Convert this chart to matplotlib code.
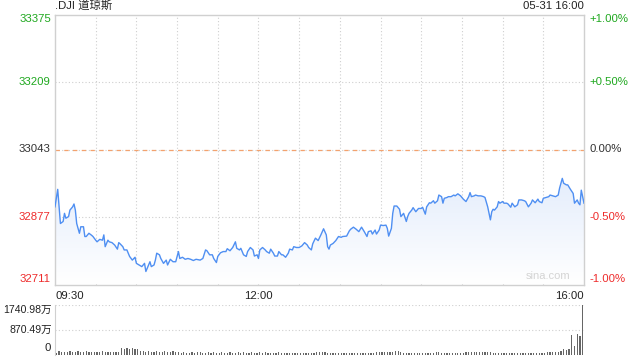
import numpy as np
import matplotlib
matplotlib.use('Agg')
import matplotlib.pyplot as plt
from matplotlib.colors import LinearSegmentedColormap
from matplotlib.patches import Polygon

plt.rcParams['font.family'] = ['Liberation Sans', 'Noto Sans CJK SC', 'DejaVu Sans']

prev_close = 33043
y_low, y_high = 32711, 33375
left_ticks = [33375, 33209, 33043, 32877, 32711]
right_ticks = ['+1.00%', '+0.50%', '0.00%', '-0.50%', '-1.00%']
tick_colors = ['#1fa81f', '#1fa81f', '#333333', '#ee2b2b', '#ee2b2b']

# minutes since 09:30 and index level
minutes = [0, 2, 4, 6, 7, 8, 10, 11, 13, 14, 15, 16, 18, 19, 21, 22, 23, 25, 27, 28,
           30, 31, 33, 35, 36, 37, 39, 40, 42, 44, 46, 47, 48, 50, 51, 53, 55, 57, 59,
           60, 62, 64, 66, 67, 69, 70, 71, 73, 74, 75, 77, 78, 80, 82, 83, 85, 87, 89,
           91, 92, 94, 96, 98,
           100, 102, 104, 107, 109, 111, 112, 114, 116, 117, 119, 120, 122, 124, 126,
           127, 129, 131, 133, 134, 136, 137, 139, 141, 142, 144, 146, 147, 149, 150,
           151, 153, 155, 156, 158, 159, 161, 162, 164, 165, 167, 168, 170, 172, 173,
           175, 176, 178, 180, 182, 184, 186, 187, 189, 190, 192, 194, 196, 198, 200, 201,
           202, 203, 205, 207, 209, 211, 212, 215, 217, 218, 220, 222, 224, 226, 228,
           230, 231, 233, 234, 236, 237, 239, 240, 242, 244, 245, 246, 248, 249, 250,
           252, 254, 255, 257, 259, 260, 261, 263, 264, 266, 268, 270, 271, 273, 274,
           276, 277, 279, 280, 282, 283, 285, 286, 287, 289, 290, 292, 294, 295, 297,
           299, 301, 303, 305, 306, 307, 309, 310, 312, 314, 316, 317, 319, 321, 322,
           323, 324, 326, 327, 328, 330, 331, 333, 334, 336, 337, 339, 341, 342, 344,
           346, 347, 349, 351, 352, 354, 356, 357, 359, 360, 362, 364, 365, 367, 369,
           371, 372, 374, 375, 377, 378, 380, 382, 383, 385, 386, 387, 388, 389, 390]
prices = [32902, 32945, 32861, 32866, 32886, 32874, 32878, 32894, 32902, 32909, 32894, 32861, 32837, 32853, 32853, 32829, 32829, 32837, 32832, 32829,
          32820, 32816, 32822, 32820, 32833, 32804, 32820, 32816, 32814, 32808, 32798, 32814, 32811, 32804, 32796, 32796, 32780, 32771, 32778,
          32763, 32759, 32755, 32763, 32743, 32759, 32767, 32755, 32759, 32771, 32788, 32784, 32775, 32763, 32771, 32759, 32773, 32767, 32767,
          32792, 32775, 32778, 32773, 32775,
          32773, 32770, 32773, 32771, 32775, 32796, 32794, 32784, 32784, 32775, 32765, 32780, 32789, 32792, 32792,
          32799, 32794, 32802, 32816, 32800, 32796, 32800, 32784, 32780, 32792, 32802, 32796, 32781, 32784, 32775,
          32796, 32802, 32796, 32792, 32788, 32798, 32788, 32781, 32781, 32792, 32784, 32784, 32778, 32788, 32798,
          32796, 32804, 32802, 32802, 32806, 32814, 32808, 32802, 32796, 32811, 32825, 32819, 32833, 32848, 32833, 32804,
          32798, 32808, 32812, 32819, 32829, 32827, 32829, 32830, 32843, 32847, 32852, 32847, 32841, 32852, 32841,
          32829, 32841, 32843, 32835, 32845, 32835, 32845, 32857, 32856, 32857, 32849, 32830, 32849, 32886, 32904,
          32904, 32896, 32878, 32886, 32866, 32878, 32886, 32894, 32900, 32890, 32898, 32898, 32901, 32884, 32902,
          32912, 32911, 32917, 32911, 32917, 32931, 32927, 32911, 32923, 32925, 32927, 32927, 32931, 32929, 32934,
          32929, 32921, 32915, 32927, 32937, 32927, 32929, 32931, 32929, 32929, 32927, 32925, 32902, 32870, 32890,
          32896, 32894, 32902, 32915, 32911, 32915, 32911, 32911, 32909, 32901, 32911, 32902, 32907, 32919, 32919,
          32917, 32915, 32902, 32911, 32919, 32912, 32921, 32915, 32912, 32923, 32925, 32927, 32931, 32929, 32927,
          32931, 32948, 32972, 32960, 32956, 32956, 32945, 32935, 32911, 32919, 32911, 32907, 32943, 32927, 32911]

# volume (万), one value per two minutes, grouped by half hour
vol_0930 = [60, 110, 95, 105, 90, 110, 100, 95, 110, 85, 100, 115, 90, 105, 95]
vol_1000 = [100, 90, 110, 95, 85, 100, 90, 80, 95, 230, 180, 240, 200, 215, 190]
vol_1030 = [210, 130, 115, 100, 120, 105, 95, 110, 100, 90, 115, 100, 105, 130, 95]
vol_1100 = [80, 70, 75, 65, 70, 80, 60, 75, 85, 70, 65, 75, 70, 80, 70]
vol_1130 = [70, 75, 65, 70, 75, 70, 65, 75, 70, 80, 70, 65, 75, 70, 65]
vol_1200 = [90, 60, 85, 55, 65, 70, 60, 75, 55, 65, 60, 70, 55, 65, 60]
vol_1230 = [60, 65, 70, 60, 55, 70, 80, 85, 75, 80, 45, 40, 45, 40, 40]
vol_1300 = [40, 45, 40, 40, 40, 60, 65, 55, 65, 60, 70, 60, 65, 75, 80]
vol_1330 = [95, 85, 100, 90, 100, 110, 140, 95, 70, 65, 60, 70, 55, 60, 65]
vol_1400 = [60, 65, 60, 55, 70, 90, 85, 60, 55, 65, 60, 55, 60, 65, 60]
vol_1430 = [70, 80, 85, 75, 80, 90, 80, 75, 80, 85, 80, 65, 60, 65, 60]
vol_1500 = [60, 65, 55, 60, 60, 65, 60, 55, 60, 65, 60, 60, 65, 60, 65]
vol_1530 = [65, 95, 90, 95, 100, 95, 120, 180, 150, 200, 685, 310, 710, 650, 1741]
volume = (vol_0930 + vol_1000 + vol_1030 + vol_1100 + vol_1130 + vol_1200 + vol_1230
          + vol_1300 + vol_1330 + vol_1400 + vol_1430 + vol_1500 + vol_1530)
vol_minutes = np.arange(1, 390, 2)
vol_max = 1740.98

fig = plt.figure(figsize=(6.4, 3.6), dpi=100)
W, H = 640, 360
ax = fig.add_axes([55 / W, 1 - 284.5 / H, 529 / W, 270 / H])
vx = fig.add_axes([55 / W, 1 - 354.5 / H, 529 / W, 49.5 / H])

grid_c = '#cfcfcf'
dot = (0, (1, 2))

# main chart
for s in ax.spines.values():
    s.set_color('#d0d0d0')
    s.set_linewidth(1)
for m in range(30, 390, 30):
    ax.axvline(m, color=grid_c, lw=0.8, ls=dot, zorder=1)
for v in [33209, 32877]:
    ax.axhline(v, color=grid_c, lw=0.8, ls=dot, zorder=1)
ax.axhline(prev_close, color=grid_c, lw=0.8, ls=dot, zorder=1)
ax.axhline(prev_close, color='#f3a26e', lw=0.9, dashes=(3.5, 3.5), zorder=1.5)

# gradient fill under the line
verts = [(minutes[0], y_low)] + list(zip(minutes, prices)) + [(minutes[-1], y_low)]
poly = Polygon(verts, closed=True, fc='none', ec='none')
ax.add_patch(poly)
cmap = LinearSegmentedColormap.from_list('fade', ['#ffffff', '#e4edfc'])
grad = np.linspace(1, 0, 256).reshape(-1, 1)
im = ax.imshow(grad, extent=[0, 390, y_low, max(prices)], aspect='auto',
               cmap=cmap, zorder=2)
im.set_clip_path(poly)

ax.plot(minutes, prices, color='#4f8ff2', lw=1.0, zorder=3)
ax.set_xlim(0, 390)
ax.set_ylim(y_low, y_high)
ax.set_xticks([])
ax.set_yticks([])

fs = 8.2
vas = ['top', 'center', 'center', 'center', 'bottom']
for val, lab, col, va in zip(left_ticks, right_ticks, tick_colors, vas):
    ax.text(-0.008, val, str(val), transform=ax.get_yaxis_transform(),
            ha='right', va=va, color=col, fontsize=fs)
    ax.text(1.01, val, lab, transform=ax.get_yaxis_transform(),
            ha='left', va=va, color=col, fontsize=fs)

ax.text(0, 1.012, '.DJI 道琼斯', transform=ax.transAxes, ha='left', va='bottom',
        fontsize=fs, color='#222222')
ax.text(1, 1.012, '05-31 16:00', transform=ax.transAxes, ha='right', va='bottom',
        fontsize=fs, color='#222222')
ax.text(0, -0.025, '09:30', transform=ax.transAxes, ha='left', va='top',
        fontsize=fs, color='#222222')
ax.text(150, -0.025, '12:00', transform=ax.get_xaxis_transform(), ha='center', va='top',
        fontsize=fs, color='#222222')
ax.text(1, -0.025, '16:00', transform=ax.transAxes, ha='right', va='top',
        fontsize=fs, color='#222222')
ax.text(0.975, 0.012, 'sina.com', transform=ax.transAxes, ha='right', va='bottom',
        fontsize=8, color='#d4d4d4', zorder=4)

# volume panel
for k in ['top', 'right', 'bottom']:
    vx.spines[k].set_visible(False)
vx.spines['left'].set_color('#d0d0d0')
vx.axhline(vol_max, color=grid_c, lw=0.8, ls=dot)
vx.axhline(vol_max / 2, color=grid_c, lw=0.8, ls=dot)
vx.bar(vol_minutes, volume, width=0.9, color='#666666', zorder=3)
vx.set_xlim(0, 390)
vx.set_ylim(0, vol_max)
vx.set_xticks([])
vx.set_yticks([])
vfs = 7.6
vx.text(-0.006, vol_max, '1740.98万', transform=vx.get_yaxis_transform(),
        ha='right', va='top', fontsize=vfs, color='#222222')
vx.text(-0.006, vol_max / 2, '870.49万', transform=vx.get_yaxis_transform(),
        ha='right', va='center', fontsize=vfs, color='#222222')
vx.text(-0.008, 40, '0', transform=vx.get_yaxis_transform(),
        ha='right', va='bottom', fontsize=fs, color='#222222')

fig.savefig('out.png', dpi=100)
